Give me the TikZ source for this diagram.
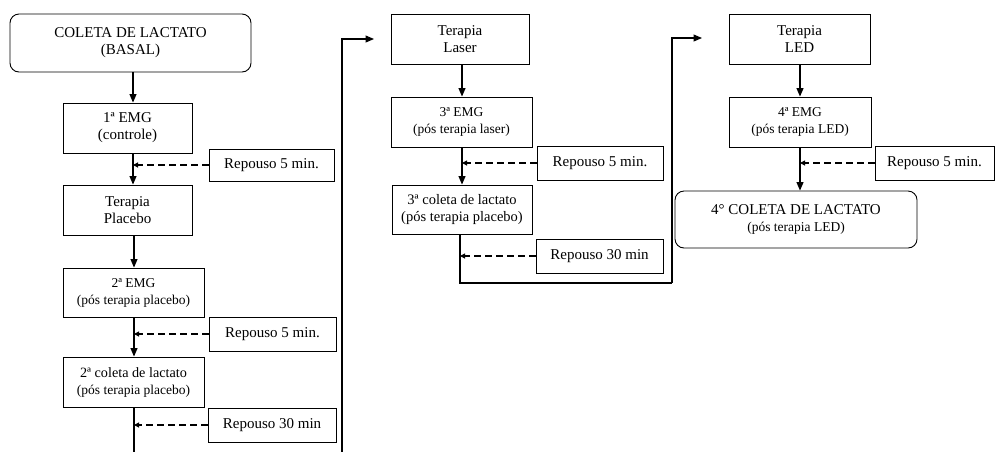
\documentclass[tikz,border=0pt]{standalone}
\usepackage{fontspec}
\setmainfont{Liberation Serif}
\usetikzlibrary{arrows.meta,calc}
\newcommand{\bigf}{\fontsize{15}{17}\selectfont}
\newcommand{\smf}{\fontsize{13.5}{17}\selectfont}
\newcommand{\midf}{\fontsize{14.2}{17}\selectfont}
\tikzset{
  box/.style={draw, line width=0.9pt, inner sep=0pt, align=center, font=\bigf},
  rbox/.style={box, rounded corners=9pt},
  arr/.style={line width=1.1pt, -{Triangle[length=8.5pt,width=7pt]}},
  plain/.style={line width=1.1pt},
  darr/.style={line width=1.1pt, dash pattern=on 6.5pt off 4.5pt, -{Triangle[length=5pt,width=5pt]}}
}
\begin{document}
\begin{tikzpicture}[x=1pt,y=-1pt]
\useasboundingbox (0,0) rectangle (995,451);
% left column
\node[rbox, minimum width=241pt, minimum height=58pt] (basal) at (130.5,43) {COLETA DE LACTATO\\(BASAL)};
\node[box, minimum width=129pt, minimum height=50pt] (emg1) at (127.5,128) {1ª EMG\\(controle)};
\node[box, minimum width=125pt, minimum height=32pt] (rep1) at (271.5,165) {Repouso 5 min.};
\node[box, minimum width=129pt, minimum height=50pt] (plac) at (127.5,210) {Terapia\\Placebo};
\node[box, minimum width=141pt, minimum height=49pt] (emg2) at (133.5,292.5) {\smf 2ª EMG\\\smf (pós terapia placebo)};
\node[box, minimum width=127pt, minimum height=34pt] (rep2) at (272.5,334) {Repouso 5 min.};
\node[box, minimum width=141pt, minimum height=50pt] (col2) at (133.5,382) {\midf 2ª coleta de lactato\\\smf (pós terapia placebo)};
\node[box, minimum width=128pt, minimum height=34pt] (rep3) at (272,425) {Repouso 30 min};
\coordinate (La) at (133,0);
\coordinate (Lb) at (134,0);
\coordinate (Lend) at (134,452);
\draw[arr] (La |- basal.south) -- (La |- emg1.north);
\draw[arr] (La |- emg1.south) -- (La |- plac.north);
\draw[darr] (rep1.west) -- (La |- rep1.west);
\draw[arr] (Lb |- plac.south) -- (Lb |- emg2.north);
\draw[arr] (Lb |- emg2.south) -- (Lb |- col2.north);
\draw[darr] (rep2.west) -- (Lb |- rep2.west);
\draw[plain] (Lb |- col2.south) -- (Lend);
\draw[darr] (rep3.west) -- (Lb |- rep3.west);
% connector to middle column
\coordinate (c1s) at (342,452);
\coordinate (c1e) at (374,39);
\draw[arr] (c1s) |- (c1e);
% middle column
\node[box, minimum width=138pt, minimum height=50pt] (laser) at (460,39) {Terapia\\Laser};
\node[box, minimum width=141pt, minimum height=50pt] (emg3) at (461.5,122) {\smf 3ª EMG\\\smf (pós terapia laser)};
\node[box, minimum width=126pt, minimum height=34pt] (rep4) at (600,163) {Repouso 5 min.};
\node[box, minimum width=140pt, minimum height=49pt] (col3) at (462,209.5) {\fontsize{14.5}{17}\selectfont 3ª coleta de lactato\\\fontsize{14.5}{17}\selectfont (pós terapia placebo)};
\node[box, minimum width=127pt, minimum height=34pt] (rep5) at (599.5,256) {Repouso 30 min};
\coordinate (M) at (462,0);
\coordinate (Mt) at (460,0);
\draw[arr] (M |- laser.south) -- (M |- emg3.north);
\draw[arr] (M |- emg3.south) -- (M |- col3.north);
\draw[darr] (rep4.west) -- (M |- rep4.west);
\coordinate (c2a) at (460,283);
\coordinate (c2b) at (672,283);
\coordinate (c2e) at (702,38);
\draw[plain] (Mt |- col3.south) -- (c2a) -- (c2b);
\draw[arr] (c2b) |- (c2e);
\draw[darr] (rep5.west) -- (Mt |- rep5.west);
% right column
\node[box, minimum width=141pt, minimum height=50pt] (led) at (799.5,39) {Terapia\\LED};
\node[box, minimum width=142pt, minimum height=50pt] (emg4) at (800,122) {\smf 4ª EMG\\\smf (pós terapia LED)};
\node[box, minimum width=119pt, minimum height=34pt] (rep6) at (934.5,163) {Repouso 5 min.};
\node[rbox, minimum width=242pt, minimum height=57pt] (col4) at (796,219.5) {4° COLETA DE LACTATO\\\smf (pós terapia LED)};
\coordinate (R) at (800,0);
\draw[arr] (R |- led.south) -- (R |- emg4.north);
\draw[arr] (R |- emg4.south) -- (R |- col4.north);
\draw[darr] (rep6.west) -- (R |- rep6.west);
\end{tikzpicture}
\end{document}
